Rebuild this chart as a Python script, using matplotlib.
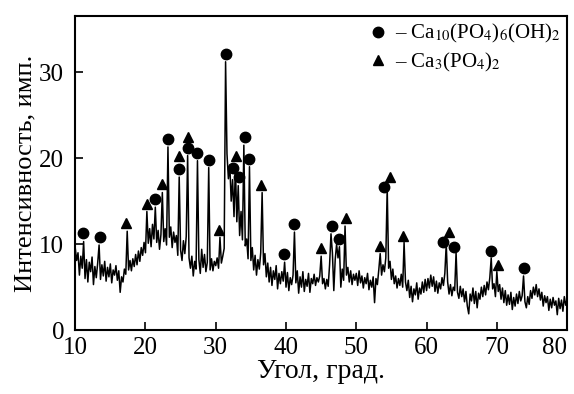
import numpy as np
import matplotlib
matplotlib.use("Agg")
import matplotlib.pyplot as plt

# XRD pattern at 0.2 deg steps (10..80 deg)
angle_start = 10.0
angle_step = 0.2

intensity = [
    # 10.0 - 19.8
    9.6, 8.1, 9.0, 6.4, 8.6, 7.2, 10.3, 6.0, 8.2, 5.6,
    7.9, 6.8, 8.5, 5.3, 7.4, 6.1, 7.8, 9.9, 5.9, 7.6,
    6.3, 8.0, 5.7, 7.3, 6.2, 7.7, 5.5, 7.0, 6.4, 7.5,
    5.8, 6.9, 4.4, 6.2, 5.6, 7.1, 6.5, 11.5, 7.0, 8.1,
    6.9, 8.3, 7.4, 8.8, 7.6, 9.2, 8.0, 9.6, 8.7, 10.2,
    # 20.0 - 29.8
    9.0, 13.8, 10.1, 11.8, 9.7, 12.3, 10.6, 14.3, 10.2, 11.6,
    9.4, 11.1, 16.0, 10.3, 11.8, 9.9, 21.3, 10.8, 12.0, 9.6,
    11.4, 10.2, 11.0, 8.7, 17.8, 9.3, 8.1, 10.4, 8.9, 10.9,
    20.3, 8.4, 7.2, 8.6, 6.3, 8.0, 7.1, 19.7, 8.2, 6.6,
    9.4, 7.3, 8.8, 6.8, 7.9, 18.9, 7.0, 8.3, 6.9, 8.0,
    # 30.0 - 39.8
    7.5, 8.4, 7.2, 10.8, 7.8, 8.6, 9.5, 31.2, 20.5, 17.6,
    19.2, 15.0, 17.5, 13.2, 19.0, 12.6, 16.8, 11.0, 13.8, 10.5,
    21.5, 9.8, 10.6, 8.3, 19.0, 8.1, 9.6, 7.0, 8.7, 6.4,
    8.2, 7.1, 9.0, 16.0, 7.6, 8.9, 6.2, 7.8, 5.6, 7.3,
    5.2, 6.9, 5.9, 7.5, 4.8, 6.6, 5.4, 6.8, 5.7, 7.9,
    # 40.0 - 49.8
    5.0, 6.7, 4.6, 6.1, 5.3, 6.4, 11.4, 5.5, 6.9, 4.3,
    6.2, 5.0, 6.8, 4.5, 5.9, 5.1, 6.6, 4.4, 6.0, 5.4,
    6.5, 5.2, 6.1, 5.6, 6.3, 8.6, 5.4, 6.0, 4.8, 5.9,
    5.1, 7.6, 11.2, 9.0, 4.6, 8.2, 10.0, 8.4, 9.7, 5.0,
    7.1, 5.8, 12.1, 6.4, 7.3, 5.6, 6.9, 5.3, 6.5, 5.8,
    # 50.0 - 59.8
    6.6, 5.2, 6.9, 5.5, 6.3, 4.9, 6.1, 5.4, 6.6, 4.7,
    5.8, 5.0, 6.2, 3.2, 6.0, 5.3, 7.0, 8.9, 6.4, 7.6,
    6.8, 8.4, 16.5, 7.2, 8.0, 5.9, 7.1, 5.4, 6.3, 4.9,
    6.0, 5.2, 6.5, 5.0, 10.2, 5.6, 4.6, 5.8, 3.8, 5.1,
    3.3, 4.8, 4.1, 5.5, 3.6, 4.9, 4.2, 5.6, 4.4, 5.9,
    # 60.0 - 69.8
    4.6, 6.0, 4.9, 6.4, 5.1, 6.2, 4.5, 5.7, 4.3, 5.5,
    4.8, 6.1, 5.2, 6.6, 10.0, 5.6, 4.2, 5.3, 4.0, 5.0,
    4.6, 9.0, 4.4, 3.7, 5.1, 3.9, 4.8, 3.3, 4.5, 2.8,
    1.9, 4.2, 3.4, 4.9, 3.1, 4.5, 2.6, 4.3, 3.6, 5.0,
    3.9, 5.2, 4.1, 5.6, 4.7, 6.1, 8.4, 4.8, 5.4, 3.9,
    # 70.0 - 80.0
    6.8, 4.5, 5.3, 3.6, 4.9, 3.2, 4.6, 2.9, 4.1, 3.0,
    4.4, 2.4, 3.8, 2.8, 4.2, 3.1, 4.5, 3.4, 4.0, 6.3,
    3.3, 2.6, 3.9, 3.0, 4.6, 3.7, 5.0, 4.1, 5.3, 3.9,
    4.8, 3.5, 4.4, 2.8, 4.0, 3.2, 3.9, 2.3, 3.6, 2.6,
    3.8, 2.9, 3.4, 1.8, 3.7, 2.5, 3.5, 2.2, 3.9, 2.9,
    3.6,
]

# phase markers (angle, height)
hap_angle = [11.1, 13.5, 21.4, 23.2, 24.8, 26.0, 27.4, 29.1, 31.4, 32.5, 33.3,
             34.1, 34.8, 39.7, 41.2, 46.5, 47.6, 54.0, 62.4, 63.9, 69.1, 73.8]
hap_height = [11.3, 10.85, 15.2, 22.2, 18.7, 21.2, 20.6, 19.8, 32.1, 18.8, 17.8,
              22.4, 19.9, 8.8, 12.3, 12.1, 10.6, 16.6, 10.3, 9.7, 9.2, 7.2]
tcp_angle = [17.3, 20.2, 22.4, 24.8, 26.0, 30.5, 32.9, 36.5, 45.0, 48.5, 53.4,
             54.8, 56.7, 63.2, 70.2]
tcp_height = [12.5, 14.7, 17.0, 20.2, 22.5, 11.7, 20.2, 16.9, 9.5, 13.0, 9.8,
              17.8, 11.0, 11.4, 7.6]

angle = angle_start + angle_step * np.arange(len(intensity))

plt.rcParams['font.family'] = ['Liberation Serif', 'DejaVu Serif']
plt.rcParams['mathtext.fontset'] = 'stix'

fig = plt.figure(figsize=(5.74, 3.94), dpi=100)
ax = fig.add_axes([0.131, 0.162, 0.857, 0.797])

ax.plot(angle, intensity, color='black', lw=1.1)
ax.plot(hap_angle, hap_height, 'o', color='black', ms=7.5, ls='none',
        label=r'– Ca$_{10}$(PO$_4$)$_6$(OH)$_2$')
ax.plot(tcp_angle, tcp_height, '^', color='black', ms=7.5, ls='none',
        label=r'– Ca$_3$(PO$_4$)$_2$')

ax.set_xlim(10, 80)
ax.set_ylim(0, 36.5)
ax.set_xticks(range(10, 81, 10))
ax.set_yticks([0, 10, 20, 30])
ax.tick_params(direction='in', length=6, width=1.2, labelsize=18)
ax.tick_params(axis='x', pad=5)
ax.tick_params(axis='y', pad=8)
ax.get_xticklabels()[-1].set_horizontalalignment('right')
for s in ax.spines.values():
    s.set_linewidth(1.5)

ax.set_xlabel('Угол, град.', fontsize=20, labelpad=0)
ax.set_ylabel('Интенсивность, имп.', fontsize=19, labelpad=2)

ax.legend(loc='upper right', frameon=False, fontsize=15, handlelength=0.8,
          handletextpad=0.4, borderaxespad=0.0, labelspacing=0.25, borderpad=0.3)

fig.savefig('out.png', dpi=100)
